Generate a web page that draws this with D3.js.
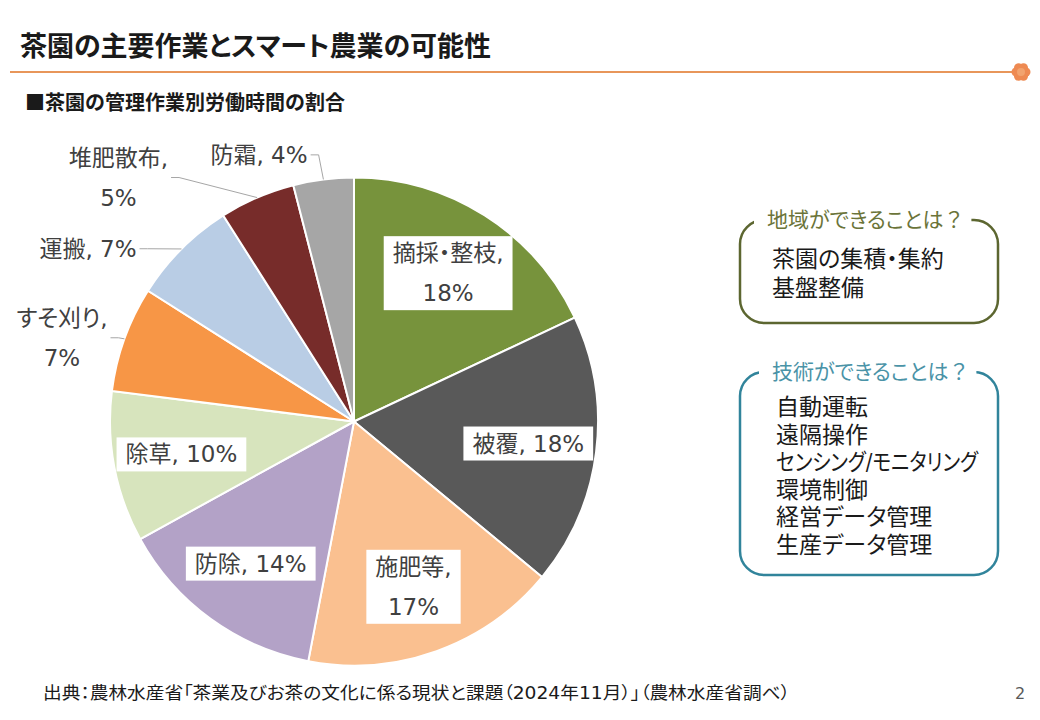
<!DOCTYPE html>
<html>
<head>
<meta charset="utf-8">
<script src="https://cdn.jsdelivr.net/npm/d3@7"></script>
<style>
  body { margin: 0; background: #fff; }
  text { font-family: "DejaVu Sans", "Noto Sans CJK JP", sans-serif; }
  .jp { font-family: "Noto Sans CJK JP", sans-serif; }
  .palt { font-feature-settings: "palt"; }
  .nopalt { font-feature-settings: normal; }
</style>
</head>
<body>
<div id="chart"></div>
<script>
// chart data
var categories = ["摘採・整枝", "被覆", "施肥等", "防除", "除草", "すそ刈り", "運搬", "堆肥散布", "防霜"];
var shares = [18, 18, 17, 14, 10, 7, 7, 5, 4];
var sliceColors = ["#77933C", "#595959", "#FAC090", "#B3A2C7", "#D7E4BD", "#F79646", "#B9CDE5", "#772C2A", "#A6A6A6"];

// texts
var title = "茶園の主要作業とスマート農業の可能性";
var subtitle = "■茶園の管理作業別労働時間の割合";
var source = "出典：農林水産省「茶業及びお茶の文化に係る現状と課題（2024年11月）」（農林水産省調べ）";
var regionTitle = "地域ができることは";
var regionItems = ["茶園の集積・集約", "基盤整備"];
var techTitle = "技術ができることは";
var techItems = ["自動運転", "遠隔操作", "センシング/モニタリング", "環境制御", "経営データ管理", "生産データ管理"];

// label layout: which labels wrap, which sit outside (angle in degrees, radius factor)
var wrapLabels = ["摘採・整枝", "施肥等", "すそ刈り", "堆肥散布"];
var outsideLabels = {
    "すそ刈り": [286, 1.245],
    "運搬": [303, 1.30],
    "堆肥散布": [316, 1.39],
    "防霜": [340.4, 1.16]
};

var W = 1040, H = 720;
var svg = d3.select("#chart").append("svg")
    .attr("width", W)
    .attr("height", H);

// header
svg.append("text")
    .attr("class", "jp palt")
    .attr("x", 20).attr("y", 44)
    .attr("dominant-baseline", "central")
    .style("font-size", "27px").style("font-weight", "bold")
    .style("fill", "#1a1a1a")
    .text(title);

svg.append("line")
    .attr("x1", 10).attr("x2", 1012)
    .attr("y1", 72).attr("y2", 72)
    .style("stroke", "#E8965A").style("stroke-width", 2);

// small flower mark at the line end
var flower = svg.append("g").attr("transform", "translate(1021,72)");
d3.range(6).forEach(function (i) {
    var a = i * Math.PI / 3;
    flower.append("circle")
        .attr("cx", 5 * Math.cos(a)).attr("cy", 5 * Math.sin(a))
        .attr("r", 4.5).style("fill", "#EE8A52");
});
flower.append("circle").attr("r", 4).style("fill", "#F2A36E");

svg.append("text")
    .attr("class", "jp")
    .attr("x", 25).attr("y", 101)
    .attr("dominant-baseline", "central")
    .style("font-size", "20px").style("font-weight", "bold")
    .style("fill", "#1a1a1a")
    .text(subtitle);

// pie
var cx = 354, cy = 421.5, radius = 244;
var color = d3.scaleOrdinal().domain(categories).range(sliceColors);
var pie = d3.pie().sort(null).value(function (d) { return d.value; });
var data = categories.map(function (c, i) { return { name: c, value: shares[i] }; });
var arcs = pie(data);

var arc = d3.arc().innerRadius(0).outerRadius(radius);
var inArc = d3.arc().innerRadius(radius * 0.72).outerRadius(radius * 0.72);
var edgeArc = d3.arc().innerRadius(radius).outerRadius(radius);

var pieG = svg.append("g").attr("transform", "translate(" + cx + "," + cy + ")");

pieG.selectAll("path.slice")
    .data(arcs)
    .enter().append("path")
    .attr("class", "slice")
    .attr("d", arc)
    .style("fill", function (d) { return color(d.data.name); })
    .style("stroke", "#fff")
    .style("stroke-width", 2);

var lineH = 40;
arcs.forEach(function (d) {
    var name = d.data.name;
    var pct = d.data.value + "%";
    var lines = wrapLabels.indexOf(name) >= 0 ? [name + ",", pct] : [name + ", " + pct];
    var out = outsideLabels[name];
    var pos;
    if (out) {
        var a = out[0] * Math.PI / 180, rr = out[1] * radius;
        pos = [rr * Math.sin(a), -rr * Math.cos(a)];
    } else {
        pos = inArc.centroid(d);
    }
    var g = pieG.append("g").attr("transform", "translate(" + pos[0] + "," + pos[1] + ")");
    var bg = g.append("rect").style("fill", "#fff");
    var t = g.append("text")
        .attr("class", "palt")
        .attr("text-anchor", "middle")
        .style("font-size", "23px")
        .style("fill", "#404040");
    lines.forEach(function (l, i) {
        t.append("tspan")
            .attr("x", 0)
            .attr("y", (i - (lines.length - 1) / 2) * lineH)
            .attr("dominant-baseline", "central")
            .text(l);
    });
    var bb = t.node().getBBox();
    if (!out) {
        bg.attr("x", bb.x - 9).attr("y", bb.y - 4)
            .attr("width", bb.width + 18).attr("height", bb.height + 8);
    } else {
        // leader line from label to the slice edge
        var e = edgeArc.centroid(d);
        var sx = pos[0] + bb.x + bb.width + 3, sy = pos[1] + bb.y + bb.height / 2;
        var pts = [[sx, sy], [sx + 8, sy], [e[0], e[1]]];
        pieG.insert("path", "g")
            .attr("d", d3.line()(pts))
            .style("fill", "none")
            .style("stroke", "#A6A6A6")
            .style("stroke-width", 1);
    }
});

// side boxes
function drawBox(x0, y0, x1, y1, stroke, titleText, titleColor, titleX, items, itemX, itemY0, itemGap) {
    var g = svg.append("g");
    g.append("rect")
        .attr("x", x0).attr("y", y0)
        .attr("width", x1 - x0).attr("height", y1 - y0)
        .attr("rx", 24).attr("ry", 24)
        .style("fill", "none").style("stroke", stroke).style("stroke-width", 2.5);
    var cover = g.append("rect").style("fill", "#fff");
    var tt = g.append("text")
        .attr("class", "jp palt")
        .attr("x", titleX).attr("y", y0 - 2)
        .attr("dominant-baseline", "central")
        .style("font-size", "21px")
        .style("fill", titleColor)
        .text(titleText);
    tt.append("tspan").attr("class", "nopalt").text("？");
    var tb = tt.node().getBBox();
    cover.attr("x", tb.x - 13).attr("y", y0 - 4)
        .attr("width", tb.width + 20).attr("height", 8);
    var maxW = x1 - itemX - 20;
    items.forEach(function (s, i) {
        var it = g.append("text")
            .attr("class", "palt")
            .attr("x", itemX).attr("y", itemY0 + i * itemGap)
            .attr("dominant-baseline", "central")
            .style("font-size", "23px")
            .style("fill", "#1a1a1a")
            .text(s);
        if (it.node().getComputedTextLength() > maxW) {
            it.attr("textLength", maxW).attr("lengthAdjust", "spacingAndGlyphs");
        }
    });
}

drawBox(740, 220, 998, 323, "#5C6630", regionTitle, "#6B7439", 767, regionItems, 772, 259, 29);
drawBox(740, 372, 998, 575, "#31849B", techTitle, "#4A93A7", 772, techItems, 776, 407, 27.5);

// footer
svg.append("text")
    .attr("class", "palt")
    .attr("x", 43).attr("y", 693)
    .attr("dominant-baseline", "central")
    .attr("textLength", 747)
    .attr("lengthAdjust", "spacingAndGlyphs")
    .style("font-size", "17px")
    .style("fill", "#1a1a1a")
    .text(source);

svg.append("text")
    .attr("x", 1020).attr("y", 693)
    .attr("dominant-baseline", "central")
    .attr("text-anchor", "middle")
    .style("font-size", "16px")
    .style("fill", "#595959")
    .text("2");
</script>
</body>
</html>
